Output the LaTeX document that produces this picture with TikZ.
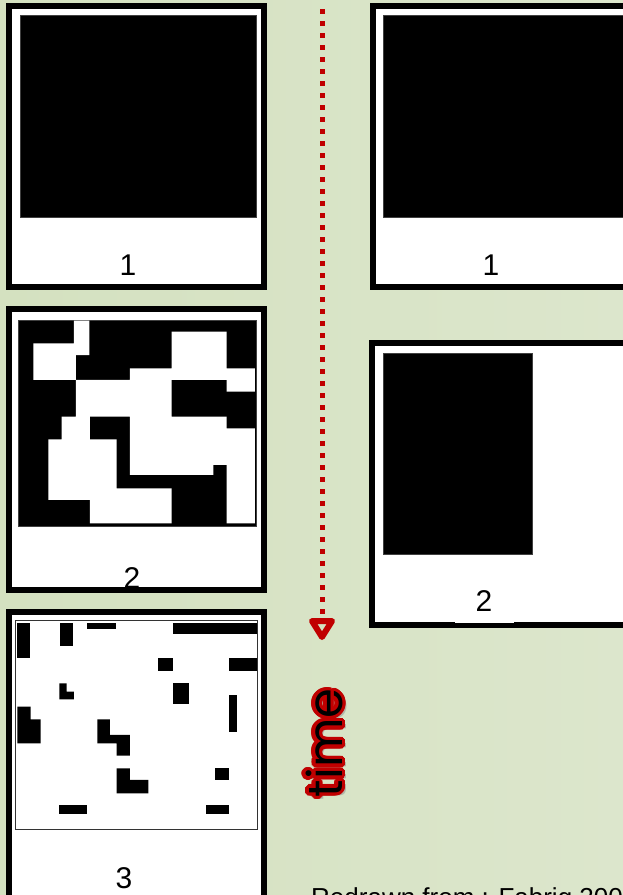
\documentclass[tikz,border=0pt]{standalone}
\usepackage{fontspec}
\setmainfont{Liberation Sans}
\newfontfamily\timefont{Poppins}
\usetikzlibrary{calc}
\definecolor{bgleft}{HTML}{D4E1C0}
\definecolor{bgright}{HTML}{DCE6CC}
\definecolor{timered}{HTML}{C00000}
\tikzset{
  paper/.style={fill=white},
  frame/.style={draw=black, line width=6pt},
  blackarea/.style={fill=black, draw=black!75, line width=0.6pt},
  gridbox/.style={fill=white, draw=black!80, line width=1pt},
  numlabel/.style={font=\fontsize{30}{32}\selectfont, inner sep=0pt},
  timetext/.style={rotate=90, inner sep=0pt, font=\timefont\fontsize{48}{50}\selectfont},
}
\begin{document}
\begin{tikzpicture}[x=1pt, y=-1pt]
\useasboundingbox (0,0) rectangle (623,895);
\shade[left color=bgleft, right color=bgright] (0,0) rectangle (623,895);

% left column, step 1
\path[paper] (9,6) rectangle (264,287);
\path[blackarea] (20,15) rectangle (256,217);
\node[numlabel] (left1) at (128,265) {1};
\draw[frame] (9,6) rectangle (264,287);

% left column, step 2
\path[paper] (9,309) rectangle (264,590);
\begin{scope}[shift={(0,300)}, x=0.3333pt, y=-0.3333pt]
\path[blackarea] (55,60) rectangle (768,678);
\fill[white] (100,130) -- (222,130) -- (222,62) -- (268,62) -- (268,165) -- (228,165)
  -- (228,240) -- (100,240) -- cycle;
\fill[white] (515,95) -- (680,95) -- (680,205) -- (765,205) -- (765,275) -- (680,275)
  -- (680,240) -- (515,240) -- (515,350) -- (680,350) -- (680,385) -- (765,385)
  -- (765,670) -- (680,670) -- (680,495) -- (640,495) -- (640,525) -- (390,525)
  -- (390,350) -- (270,350) -- (270,418) -- (350,418) -- (350,565) -- (515,565)
  -- (515,670) -- (270,670) -- (270,600) -- (145,600) -- (145,418) -- (185,418)
  -- (185,350) -- (228,350) -- (228,240) -- (390,240) -- (390,205) -- (515,205) -- cycle;
\end{scope}
\node[numlabel] (left2) at (132,578) {2};
\draw[frame] (9,309) rectangle (264,590);

% left column, step 3
\path[paper] (9,612) rectangle (264,895);
\begin{scope}[shift={(0,600)}, x=0.3333pt, y=-0.3333pt]
\path[gridbox] (48,62) rectangle (773,688);
\fill (52,68) rectangle (90,175);
\fill (180,68) rectangle (218,138);
\fill (262,68) rectangle (348,88);
\fill (520,68) rectangle (770,103);
\fill (475,175) rectangle (520,212);
\fill (688,175) rectangle (770,212);
\fill (178,250) -- (200,250) -- (200,275) -- (222,275) -- (222,298) -- (178,298) -- cycle;
\fill (518,248) rectangle (568,312);
\fill (688,285) rectangle (710,395);
\fill (52,320) -- (92,320) -- (92,358) -- (122,358) -- (122,430) -- (52,430) -- cycle;
\fill (292,358) -- (330,358) -- (330,405) -- (390,405) -- (390,467) -- (350,467)
  -- (350,430) -- (292,430) -- cycle;
\fill (350,505) -- (390,505) -- (390,540) -- (445,540) -- (445,580) -- (350,580) -- cycle;
\fill (645,505) rectangle (688,540);
\fill (178,615) rectangle (262,642);
\fill (618,615) rectangle (688,642);
\end{scope}
\node[numlabel] (left3) at (124,878) {3};
\draw[frame] (9,612) rectangle (264,898);

% right column, step 1
\path[paper] (373,6) rectangle (640,287);
\path[blackarea] (383,15) rectangle (630,217);
\node[numlabel] (right1) at (491,265) {1};
\draw[frame] (373,6) rectangle (640,287);

% right column, step 2
\path[paper] (372,343) rectangle (640,624.5);
\path[blackarea] (383,353) rectangle (532,554);
\draw[frame] (372,343) rectangle (640,624.5);
\node[numlabel, fill=white, minimum width=59pt, minimum height=43pt] (right2) at (484,601) {2};

% time arrow
\coordinate (tstart) at (322,9);
\coordinate (tend) at (322,614);
\draw[timered, line width=5pt, dash pattern=on 5pt off 7pt] (tstart) -- (tend);
\draw[timered, line width=6pt, line join=round, fill=bgleft] (312,621) -- (332,621) -- (322,637) -- cycle;

% time label, red outline
\coordinate (tpos) at (324,743);
\node[timetext, text=black!45, opacity=0.5] (tshadow) at ($(tpos)+(4,3)$) {time};
\foreach \a in {0,20,...,340}
  \node[timetext, text=timered] (tring\a) at ($(tpos)+(\a:3.5)$) {time};
\node[timetext, text=black] (tlabel) at (tpos) {time};

\node[anchor=base west, inner sep=0pt, font=\fontsize{26}{30}\selectfont] (credit) at (311,906) {Redrawn from : Fabrig 200};
\end{tikzpicture}
\end{document}
